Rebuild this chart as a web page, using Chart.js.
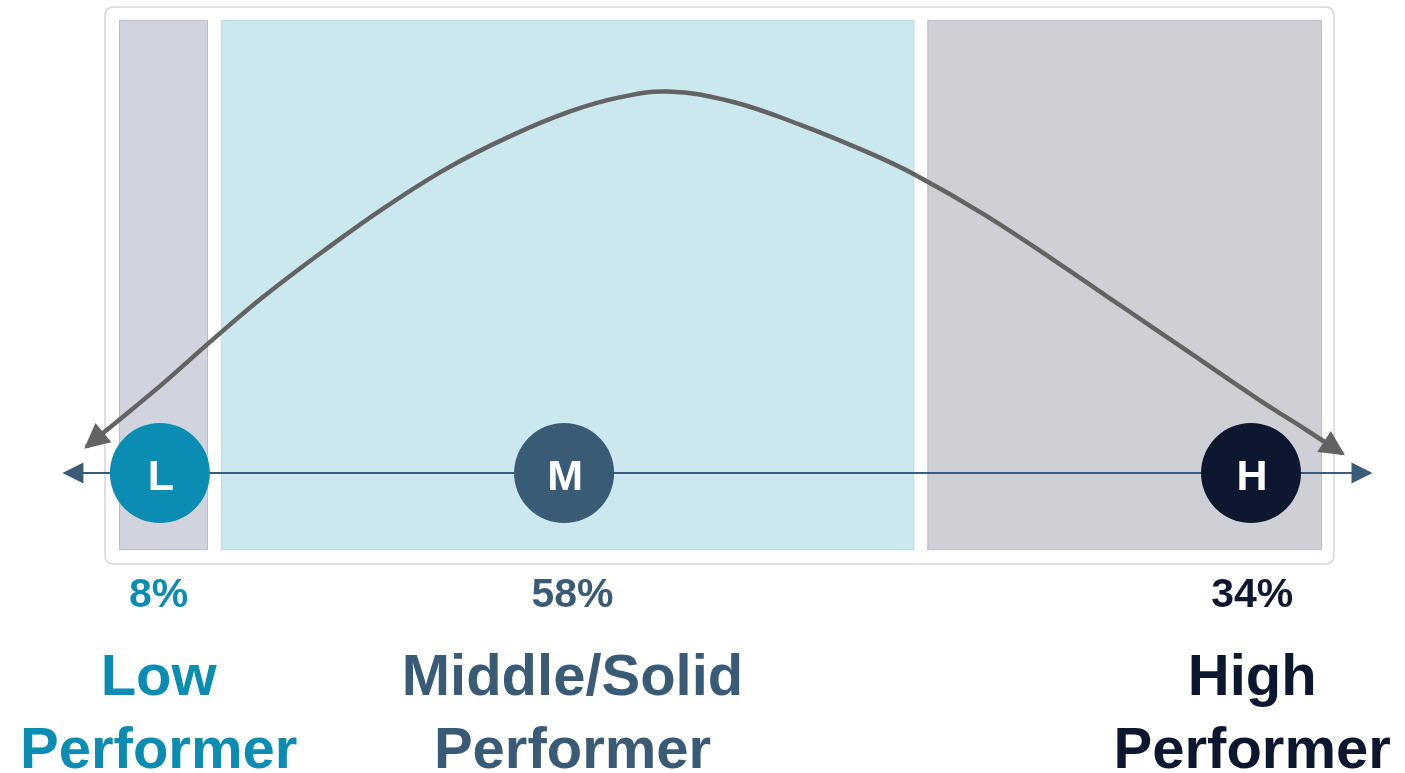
<!DOCTYPE html>
<html>
<head>
<meta charset="utf-8">
<title>Performance distribution</title>
<script src="https://cdn.jsdelivr.net/npm/chart.js@4.4.0/dist/chart.umd.min.js"></script>
<style>
    html, body { margin: 0; padding: 0; background: #fff; }
    #wrap { position: relative; width: 1405px; height: 773px; overflow: hidden; }
    #chart { position: absolute; left: 0; top: 0; }
    .pct, .lbl {
        position: absolute;
        font-family: "Liberation Sans", Arial, sans-serif;
        font-weight: bold;
        text-align: center;
        white-space: nowrap;
        transform: translateX(-50%);
    }
    .pct { font-size: 41px; line-height: 41px; top: 573px; }
    .lbl { font-size: 58px; line-height: 73px; top: 638px; }
</style>
</head>
<body>
<div id="wrap">
    <canvas id="chart" width="1405" height="773"></canvas>
    <div id="labels"></div>
</div>
<script>
// groups along the performance axis
const groups = ['L', 'M', 'H'];
const groupNames = ['Low<br>Performer', 'Middle/Solid<br>Performer', 'High<br>Performer'];
const shares = [8, 58, 34];
const groupColors = ['#0A8CB3', '#3A5B76', '#0E1730'];
const markerX = [3.4, 37.0, 94.1];
const labelX = [3.3, 37.7, 94.2];

// shaded bands (performance units)
const bandFrom = [0, 8.5, 67.2];
const bandTo = [7.4, 66.1, 100];
const bandTop = 100;
const bandBottom = -17;
const bandColors = ['#D1D3DE', '#CBE8EE', '#CFD0D6'];
const bandEdges = ['#BABDCC', '#B8DDE6', '#BEBFC6'];

// bell curve
const curveX = [-2.7, -1.2, 3.5, 7.6, 12.0, 17.1, 22.2, 27.3, 32.4, 37.5, 41.6, 45.6,
                50.9, 56.7, 62.4, 66.2, 71.9, 77.7, 83.4, 89.1, 94.8, 98.7, 101.7];
const curveY = [5.8, 9.1, 19.4, 29.0, 38.9, 49.2, 58.8, 67.3, 74.2, 79.8, 82.9, 84.2,
                82.0, 76.8, 70.6, 65.8, 57.1, 47.0, 36.7, 26.4, 16.1, 9.5, 4.3];

// horizontal axis extent
const axisFrom = -4.7;
const axisTo = 104.2;

const CURVE_COLOR = '#636363';
const AXIS_COLOR = '#3B5C77';

function arrowHead(ctx, tipX, tipY, ux, uy, len, half) {
    const nx = -uy, ny = ux;
    ctx.beginPath();
    ctx.moveTo(tipX, tipY);
    ctx.lineTo(tipX - ux * len + nx * half, tipY - uy * len + ny * half);
    ctx.lineTo(tipX - ux * len - nx * half, tipY - uy * len - ny * half);
    ctx.closePath();
    ctx.fill();
}

function roundRect(ctx, x, y, w, h, r) {
    ctx.beginPath();
    ctx.moveTo(x + r, y);
    ctx.lineTo(x + w - r, y);
    ctx.quadraticCurveTo(x + w, y, x + w, y + r);
    ctx.lineTo(x + w, y + h - r);
    ctx.quadraticCurveTo(x + w, y + h, x + w - r, y + h);
    ctx.lineTo(x + r, y + h);
    ctx.quadraticCurveTo(x, y + h, x, y + h - r);
    ctx.lineTo(x, y + r);
    ctx.quadraticCurveTo(x, y, x + r, y);
    ctx.closePath();
}

// frame, bands and axis under the datasets
const backdropPlugin = {
    id: 'backdrop',
    beforeDatasetsDraw(chart) {
        const { ctx, scales: { x, y } } = chart;
        ctx.save();

        // white card behind the bands
        const fx0 = x.getPixelForValue(bandFrom[0]) - 14;
        const fx1 = x.getPixelForValue(bandTo[bandTo.length - 1]) + 12;
        const fy0 = y.getPixelForValue(bandTop) - 13;
        const fy1 = y.getPixelForValue(bandBottom) + 14;
        roundRect(ctx, fx0, fy0, fx1 - fx0, fy1 - fy0, 9);
        ctx.fillStyle = '#fff';
        ctx.fill();
        ctx.strokeStyle = '#D6D6D6';
        ctx.lineWidth = 1.5;
        ctx.stroke();

        bandFrom.forEach((from, i) => {
            const x0 = x.getPixelForValue(from);
            const x1 = x.getPixelForValue(bandTo[i]);
            const y0 = y.getPixelForValue(bandTop);
            const y1 = y.getPixelForValue(bandBottom);
            ctx.fillStyle = bandColors[i];
            ctx.fillRect(x0, y0, x1 - x0, y1 - y0);
            ctx.strokeStyle = bandEdges[i];
            ctx.lineWidth = 1;
            ctx.strokeRect(x0 + 0.5, y0 + 0.5, x1 - x0 - 1, y1 - y0 - 1);
        });

        // axis with arrows on both ends
        const ay = y.getPixelForValue(0);
        const ax0 = x.getPixelForValue(axisFrom);
        const ax1 = x.getPixelForValue(axisTo);
        ctx.strokeStyle = AXIS_COLOR;
        ctx.lineWidth = 2;
        ctx.beginPath();
        ctx.moveTo(ax0 + 10, ay);
        ctx.lineTo(ax1 - 10, ay);
        ctx.stroke();
        ctx.fillStyle = AXIS_COLOR;
        arrowHead(ctx, ax0, ay, -1, 0, 21, 10.5);
        arrowHead(ctx, ax1, ay, 1, 0, 21, 10.5);

        ctx.restore();
    },
    afterDatasetsDraw(chart) {
        const { ctx } = chart;
        ctx.save();

        // arrowheads at both ends of the curve
        const pts = chart.getDatasetMeta(0).data;
        const first = pts[0];
        const last = pts[pts.length - 1];
        let dx = first.x - (first.cp2x ?? pts[1].x);
        let dy = first.y - (first.cp2y ?? pts[1].y);
        let d = Math.hypot(dx, dy) || 1;
        ctx.fillStyle = CURVE_COLOR;
        arrowHead(ctx, first.x + dx / d * 3, first.y + dy / d * 3, dx / d, dy / d, 25, 12.5);
        dx = last.x - (last.cp1x ?? pts[pts.length - 2].x);
        dy = last.y - (last.cp1y ?? pts[pts.length - 2].y);
        d = Math.hypot(dx, dy) || 1;
        arrowHead(ctx, last.x + dx / d * 3, last.y + dy / d * 3, dx / d, dy / d, 25, 12.5);

        // letters in the circles
        const marks = chart.getDatasetMeta(1).data;
        ctx.fillStyle = '#fff';
        ctx.font = 'bold 43px "Liberation Sans", Arial, sans-serif';
        ctx.textAlign = 'center';
        ctx.textBaseline = 'alphabetic';
        marks.forEach((m, i) => {
            ctx.fillText(groups[i], m.x + 1, m.y + 17);
        });

        ctx.restore();
    }
};

const ctx = document.getElementById('chart').getContext('2d');
const chart = new Chart(ctx, {
    type: 'scatter',
    data: {
        datasets: [{
            type: 'line',
            data: curveX.map((v, i) => ({ x: v, y: curveY[i] })),
            borderColor: CURVE_COLOR,
            borderWidth: 4.5,
            pointRadius: 0,
            tension: 0.4,
            fill: false
        }, {
            data: markerX.map(v => ({ x: v, y: 0 })),
            pointRadius: 50,
            pointHoverRadius: 50,
            pointBackgroundColor: groupColors,
            pointBorderWidth: 0
        }]
    },
    options: {
        responsive: false,
        animation: false,
        events: [],
        layout: { padding: 0, autoPadding: false },
        plugins: {
            legend: { display: false },
            tooltip: { enabled: false }
        },
        scales: {
            x: { type: 'linear', min: -9.89, max: 106.9, display: false },
            y: { type: 'linear', min: -66.2, max: 104.4, display: false }
        }
    },
    plugins: [backdropPlugin]
});

// percentage and group name under each circle
let html = '';
groups.forEach((g, i) => {
    const px = chart.scales.x.getPixelForValue(labelX[i]);
    html += `<div class="pct" style="left:${px}px;color:${groupColors[i]}">${shares[i]}%</div>`;
    html += `<div class="lbl" style="left:${px}px;color:${groupColors[i]}">${groupNames[i]}</div>`;
});
document.getElementById('labels').innerHTML = html;
</script>
</body>
</html>
